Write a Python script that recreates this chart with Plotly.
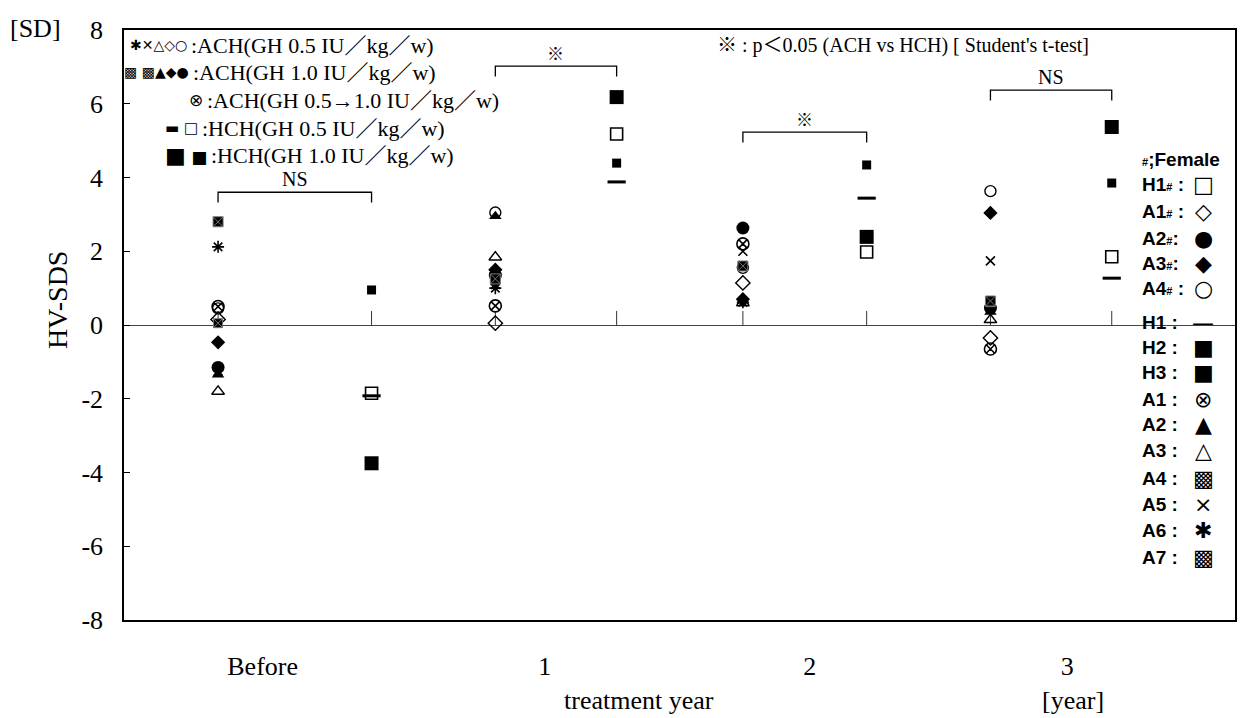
import plotly.graph_objects as go

# ---------------- data ----------------
timepoints = ["Before", "1", "2", "3"]
x_ach = [0.38, 1.50, 2.50, 3.50]   # ACH column position for each timepoint
x_hch = [1.00, 1.99, 3.00, 3.99]   # HCH column position for each timepoint
x_label_pos = [0.56, 1.70, 2.77, 3.81]
y_ticks = [-8, -6, -4, -2, 0, 2, 4, 6, 8]
y_ticktext = ["-8", "-6", "-4", "-2", "0", "2", "4", "6", "8"]

# HCH patients
H1f = [-1.85, 5.18, 1.98, 1.85]
H1 = [-1.92, 3.88, 3.44, 1.27]
H2 = [0.95, 4.39, 4.34, 3.85]
H3 = [-3.75, 6.18, 2.39, 5.37]
# ACH patients
A1f = [0.15, 0.05, 1.14, -0.35]
A2f = [-1.15, 1.35, 2.63, 0.46]
A3f = [-0.47, 1.50, 0.70, 3.04]
A4f = [0.45, 3.05, 1.55, 3.63]
A1 = [0.50, 0.52, 2.20, -0.65]
A2 = [-1.35, 2.95, 0.65, 0.35]
A3 = [-1.80, 1.84, 0.60, 0.14]
A4 = [0.05, 1.20, 1.60, 0.62]
A5 = [-1.25, 1.10, 2.00, 1.74]
A6 = [2.12, 1.00, 0.62, None]
A7 = [2.80, 1.25, 1.60, 0.65]

bracket_y = [3.60, 7.02, 5.23, 6.37]
bracket_txt = ["NS", "※", "※", "NS"]

# ---------------- figure ----------------
W, H = 1241, 718
ML, MR, MT, MB = 124, 4, 30, 98
PW, PH = W - ML - MR, H - MT - MB


def px(x):
    return (x - ML) / PW


def py(y):
    return (H - MB - y) / PH


SERIF = "Liberation Serif, Times New Roman, Noto Sans CJK JP, DejaVu Sans"
SANS = "Liberation Sans, Arial, DejaVu Sans"
SYM = "DejaVu Sans"

series = [
    ("H1#", "hch", H1f, dict(symbol="square-open", size=12, color="black", line=dict(width=1.6, color="black"))),
    ("H1", "hch", H1, dict(symbol="line-ew-open", size=13, color="black", line=dict(width=3, color="black"))),
    ("H2", "hch", H2, dict(symbol="square", size=9, color="black")),
    ("H3", "hch", H3, dict(symbol="square", size=14, color="black")),
    ("A1#", "ach", A1f, dict(symbol="diamond-open", size=11, color="black", line=dict(width=1.4, color="black"))),
    ("A2#", "ach", A2f, dict(symbol="circle", size=13, color="black")),
    ("A3#", "ach", A3f, dict(symbol="diamond", size=11, color="black")),
    ("A4#", "ach", A4f, dict(symbol="circle-open", size=11, color="black", line=dict(width=1.4, color="black"))),
    ("A1", "ach", A1, dict(symbol="circle-x-open", size=12, color="black", line=dict(width=1.6, color="black"))),
    ("A2", "ach", A2, dict(symbol="triangle-up", size=11, color="black")),
    ("A3", "ach", A3, dict(symbol="triangle-up-open", size=11, color="black", line=dict(width=1.5, color="black"))),
    ("A4", "ach", A4, dict(symbol="square-x", size=9, color="black", line=dict(width=1, color="#777"))),
    ("A5", "ach", A5, dict(symbol="x-thin-open", size=9, color="black", line=dict(width=1.6, color="black"))),
    ("A6", "ach", A6, dict(symbol="asterisk-open", size=10, color="black", line=dict(width=1.6, color="black"))),
    ("A7", "ach", A7, dict(symbol="square-x", size=10, color="black", line=dict(width=1, color="#777"))),
]

fig = go.Figure()
for name, grp, vals, mk in series:
    xs = x_hch if grp == "hch" else x_ach
    fig.add_trace(go.Scatter(x=xs, y=vals, mode="markers", name=name,
                             marker=mk, showlegend=False, cliponaxis=False))

shapes = []
# small ticks on the zero line at each column
for xv in x_ach + x_hch:
    shapes.append(dict(type="line", xref="x", yref="y", x0=xv, x1=xv, y0=0, y1=0.38,
                       line=dict(color="#333", width=1), layer="below"))
# significance brackets
for xa, xh, yb in zip(x_ach, x_hch, bracket_y):
    shapes.append(dict(type="path", xref="x", yref="y",
                       path=f"M {xa},{yb-0.28} L {xa},{yb} L {xh},{yb} L {xh},{yb-0.28}",
                       line=dict(color="black", width=1.3)))

ann = []
for xa, xh, yb, t in zip(x_ach, x_hch, bracket_y, bracket_txt):
    ann.append(dict(x=(xa + xh) / 2, y=yb, xref="x", yref="y", text=t, showarrow=False,
                    yanchor="bottom", yshift=0,
                    font=dict(family=SERIF, size=20 if t == "NS" else 17, color="black")))

# left top legend: symbols (ending at the colon position) + text
left_leg = [
    (189, 45, "✱✕△◇○", 14, ":ACH(GH 0.5 IU／kg／w)"),
    (191, 72, "▩ ▩▲◆●", 14, ":ACH(GH 1.0 IU／kg／w)"),
    (205, 100, "⊗", 17, ":ACH(GH 0.5→1.0 IU／kg／w)"),
    (200, 128, "▬ □", 15, ":HCH(GH 0.5 IU／kg／w)"),
    (209, 156, "<span style='font-size:22px'>■</span> ■", 17, ":HCH(GH 1.0 IU／kg／w)"),
]
for xc, y0, sym, ssz, t in left_leg:
    ann.append(dict(x=px(xc), y=py(y0), xref="paper", yref="paper", text=sym, showarrow=False,
                    xanchor="right", yanchor="middle",
                    font=dict(family=SYM, size=ssz, color="black")))
    ann.append(dict(x=px(xc), y=py(y0), xref="paper", yref="paper", text=t, showarrow=False,
                    xanchor="left", yanchor="middle",
                    font=dict(family=SERIF, size=22, color="black")))

ann.append(dict(x=px(716), y=py(45), xref="paper", yref="paper",
                text="※ : p＜0.05 (ACH vs HCH) [ Student's t-test]", showarrow=False,
                xanchor="left", yanchor="middle", font=dict(family=SERIF, size=20, color="black")))

# right legend (text)
sm = "<span style='font-size:11px'>#</span>"
right_leg = [
    (160, f"{sm};Female", ""),
    (185, f"H1{sm} :", "□"),
    (211, f"A1{sm} :", "◇"),
    (238, f"A2{sm}:", "●"),
    (263, f"A3{sm}:", "◆"),
    (288, f"A4{sm} :", "○"),
    (322, "H1 :", "—"),
    (347, "H2 :", "■"),
    (372, "H3 :", "■"),
    (399, "A1 :", "⊗"),
    (424, "A2 :", "▲"),
    (450, "A3 :", "△"),
    (478, "A4 :", "▩"),
    (504, "A5 :", "×"),
    (530, "A6 :", "✱"),
    (557, "A7 :", "▩"),
]
for y0, lab, sym in right_leg:
    ann.append(dict(x=px(1142), y=py(y0), xref="paper", yref="paper", text=f"<b>{lab}</b>",
                    showarrow=False, xanchor="left", yanchor="middle",
                    font=dict(family=SANS, size=19, color="black")))
    if sym:
        ann.append(dict(x=px(1205), y=py(y0), xref="paper", yref="paper", text=sym,
                        showarrow=False, xanchor="center", yanchor="middle",
                        font=dict(family=SYM, size=22, color="black")))

# axis titles / extra labels
ann.append(dict(x=px(35), y=py(28), xref="paper", yref="paper", text="[SD]", showarrow=False,
                xanchor="center", yanchor="middle", font=dict(family=SERIF, size=26, color="black")))
ann.append(dict(x=px(57), y=py(300), xref="paper", yref="paper", text="HV-SDS", showarrow=False,
                textangle=-90, xanchor="center", yanchor="middle",
                font=dict(family=SERIF, size=28, color="black")))
ann.append(dict(x=px(640), y=py(700), xref="paper", yref="paper", text="treatment year",
                showarrow=False, xanchor="center", yanchor="middle",
                font=dict(family=SERIF, size=26, color="black")))
ann.append(dict(x=px(1075), y=py(700), xref="paper", yref="paper", text="[year]",
                showarrow=False, xanchor="center", yanchor="middle",
                font=dict(family=SERIF, size=26, color="black")))

fig.update_layout(
    width=W, height=H,
    margin=dict(l=ML, r=MR, t=MT, b=MB, pad=0),
    plot_bgcolor="white", paper_bgcolor="white",
    shapes=shapes, annotations=ann,
    xaxis=dict(range=[0, PW / 248.0], showgrid=False, zeroline=False,
               showline=True, mirror=True, linecolor="black", linewidth=1.5,
               tickvals=x_label_pos, ticktext=timepoints, ticks="",
               ticklabelstandoff=22,
               tickfont=dict(family=SERIF, size=26, color="black")),
    yaxis=dict(range=[-8, 8], showgrid=False, zeroline=True, zerolinecolor="#444",
               zerolinewidth=1, showline=True, mirror=True, linecolor="black", linewidth=1.5,
               tickvals=y_ticks, ticktext=y_ticktext, ticks="inside", ticklen=6,
               tickcolor="black", ticklabelstandoff=14,
               tickfont=dict(family=SERIF, size=26, color="black")),
)

fig.write_html("out.html", config={"displayModeBar": False},
               post_script="document.body.style.margin='0px';")
